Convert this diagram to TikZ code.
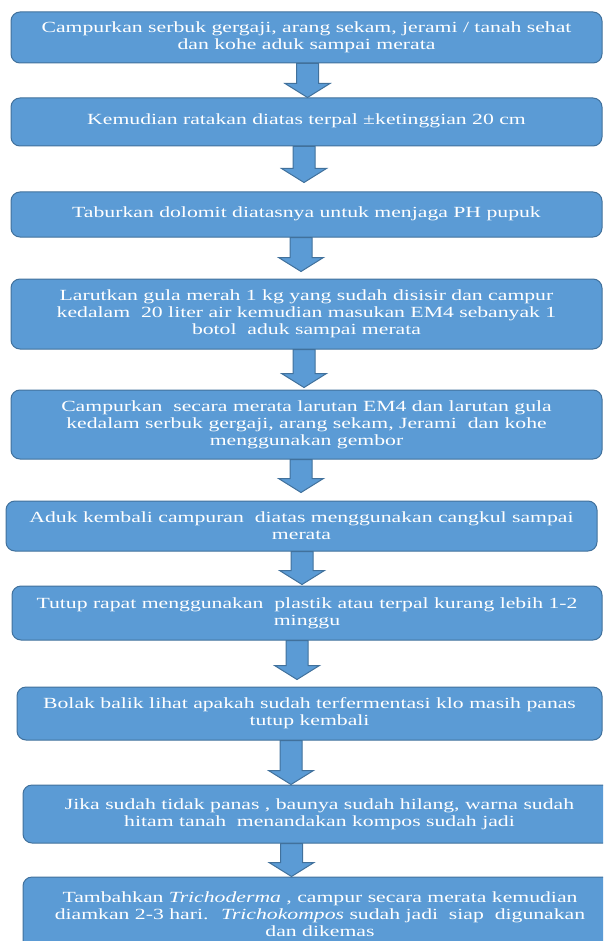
\documentclass[tikz,border=0pt]{standalone}
\usepackage{fontspec}
\setmainfont[FakeStretch=1.4]{Liberation Serif}
\usetikzlibrary{calc}

\definecolor{boxblue}{HTML}{5B9BD5}
\definecolor{edgeblue}{HTML}{41719C}

\tikzset{
  stepbox/.style={draw=edgeblue, fill=boxblue, line width=1pt, rounded corners=9pt,
    text=white, align=center, inner sep=0pt, font=\fontsize{15.5}{17}\selectfont},
  downarrow/.style={draw=edgeblue, fill=boxblue, line width=1pt, line join=miter}
}

\begin{document}
\begin{tikzpicture}[x=1pt, y=-1pt]
  \useasboundingbox (0,0) rectangle (603,941);
  \clip (0,0) rectangle (603,941);

  % Langkah 1 - campuran bahan
  \node[stepbox, minimum width=591pt, minimum height=51pt] (b1) at (306.5,37.5)
    {Campurkan serbuk gergaji, arang sekam, jerami / tanah sehat\\dan kohe aduk sampai merata};

  % Langkah 2 - ratakan
  \node[stepbox, minimum width=591pt, minimum height=48pt] (b2) at (306.5,122)
    {\raisebox{5pt}{Kemudian ratakan diatas terpal \textpm ketinggian 20 cm}};

  % Langkah 3 - dolomit
  \node[stepbox, minimum width=591pt, minimum height=45pt] (b3) at (306.5,214.5)
    {\raisebox{4pt}{Taburkan dolomit diatasnya untuk menjaga PH pupuk}};

  % Langkah 4 - larutan gula
  \node[stepbox, minimum width=591pt, minimum height=70pt] (b4) at (306.5,314)
    {Larutkan gula merah 1 kg yang sudah disisir dan campur\\kedalam \ 20 liter air kemudian masukan EM4 sebanyak 1\\botol \ aduk sampai merata};

  % Langkah 5 - siram larutan
  \node[stepbox, minimum width=591pt, minimum height=69pt] (b5) at (306.5,424.5)
    {Campurkan \ secara merata larutan EM4 dan larutan gula\\kedalam serbuk gergaji, arang sekam, Jerami \ dan kohe\\menggunakan gembor};

  % Langkah 6 - aduk kembali
  \node[stepbox, minimum width=591pt, minimum height=50pt] (b6) at (301.5,526)
    {Aduk kembali campuran \ diatas menggunakan cangkul sampai\\merata};

  % Langkah 7 - tutup
  \node[stepbox, minimum width=590pt, minimum height=54pt] (b7) at (307,613)
    {Tutup rapat menggunakan \ plastik atau terpal kurang lebih 1-2\\minggu};

  % Langkah 8 - bolak balik
  \node[stepbox, minimum width=585pt, minimum height=53pt] (b8) at (309.5,713.5)
    {Bolak balik lihat apakah sudah terfermentasi klo masih panas\\tutup kembali};

  % Langkah 9 - kompos jadi
  \node[stepbox, minimum width=593pt, minimum height=58pt] (b9) at (319.5,814)
    {Jika sudah tidak panas , baunya sudah hilang, warna sudah\\hitam tanah \ menandakan kompos sudah jadi};

  % Langkah 10 - trichokompos
  \node[stepbox, minimum width=594pt, minimum height=74pt] (b10) at (320,914)
    {Tambahkan \textit{Trichoderma} , campur secara merata kemudian\\diamkan 2-3 hari. \ \textit{Trichokompos} sudah jadi \ siap \ digunakan\\dan dikemas};

  % Panah blok antar langkah
  \foreach \a/\b/\cx/\gp in {b1/b2/307.5/0, b2/b3/304/9, b3/b4/301/7, b4/b5/304/2,
      b5/b6/301/8, b6/b7/302/1, b7/b8/297/7, b8/b9/291/0, b9/b10/291.5/0}
    \path[downarrow] let \p1 = (\a.south), \p2 = (\b.north) in
      ({(\cx-11)*1pt}, \y1) -- ({(\cx+11)*1pt}, \y1)
      -- ({(\cx+11)*1pt}, {\y2+(\gp+14)*1pt}) -- ({(\cx+22.5)*1pt}, {\y2+(\gp+14)*1pt})
      -- ({\cx*1pt}, {\y2+\gp*1pt})
      -- ({(\cx-22.5)*1pt}, {\y2+(\gp+14)*1pt}) -- ({(\cx-11)*1pt}, {\y2+(\gp+14)*1pt}) -- cycle;
\end{tikzpicture}
\end{document}
